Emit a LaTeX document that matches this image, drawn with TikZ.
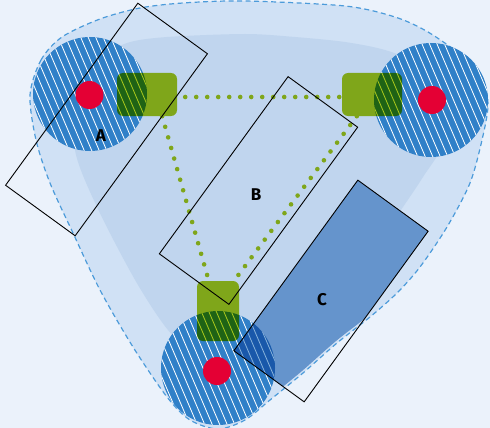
\documentclass[tikz,border=0pt]{standalone}
\usepackage{fontspec}
\setmainfont{Fira Sans}
\definecolor{bgblue}{RGB}{235,242,251}
\definecolor{outerblue}{RGB}{208,225,245}
\definecolor{innerblue}{RGB}{192,213,238}
\definecolor{edgeblue}{RGB}{76,155,218}
\definecolor{discblue}{RGB}{48,128,200}
\definecolor{dotred}{RGB}{228,0,52}
\definecolor{padgreen}{RGB}{169,199,28}
\definecolor{linkgreen}{RGB}{127,166,26}
\definecolor{zonefill}{RGB}{101,148,204}
\definecolor{zoneblue}{RGB}{134,177,218}
\usepackage{tikz}
\usetikzlibrary{positioning}
\tikzset{
disc/.style={circle, fill=discblue, minimum size=114pt, inner sep=0pt,
  path picture={\foreach \k in {-12,...,12}
    \draw[white, line width=0.8pt] ([xshift=\k*7.5pt-30pt, yshift=70pt]path picture bounding box.center) -- ([xshift=\k*7.5pt+30pt, yshift=-70pt]path picture bounding box.center);}}, % hatched blue disc
core/.style={circle, fill=dotred, minimum size=28pt, inner sep=0pt}, % red centre
pad/.style={rounded corners=6pt, fill=padgreen, inner sep=0pt}, % green pad
link/.style={linkgreen, line width=4.6pt, line cap=round, dash pattern=on 0pt off 11pt}, % dotted green link
slot/.style={draw=black, line width=0.9pt, minimum width=#1, minimum height=86pt, inner sep=0pt, rotate=54}, % tilted box
tag/.style={font=\fontsize{17}{17}\selectfont\bfseries}, % box letter
}

\begin{document}
\begin{tikzpicture}[x=1pt, y=-1pt]
      \fill[bgblue] (0,0) rectangle (490,428);
      \useasboundingbox (0,0) rectangle (490,428);

      % outer and inner zone
      \draw[fill=outerblue, draw=edgeblue, line width=1.2pt, dash pattern=on 5pt off 3.5pt]
        plot[smooth cycle] coordinates {(30,95) (41,60) (62,37) (100,19) (140,8) (183,3) (245,1) (345,6) (395,17) (428,32) (462,56) (482,79) (488,105) (482,140) (470,183) (447,227) (420,267) (397,293) (370,317) (337,343) (303,373) (270,400) (245,420) (218,429) (190,420) (167,397) (133,347) (100,290) (73,233) (50,183) (36,140)};
      \fill[innerblue]
        plot[smooth cycle] coordinates {(75,150) (80,100) (100,60) (127,43) (167,37) (245,34) (295,37) (345,42) (385,50) (410,62) (440,100) (445,140) (423,177) (403,207) (370,255) (330,300) (270,345) (218,365) (175,338) (138,285) (97,207)};

      % box C, only its fill for now
      \path (331,291) node[slot=210pt, draw=none] (bC) {};
      \begin{scope}
        \clip plot[smooth cycle] coordinates {(32,95) (43,60) (63,39) (100,21) (140,10) (183,5) (245,3) (345,8) (395,19) (428,34) (461,58) (480,80) (486,105) (480,140) (468,183) (445,227) (418,266) (395,292) (368,316) (336,341) (302,371) (269,398) (245,418) (218,427) (190,418) (169,396) (135,346) (102,289) (75,232) (52,182) (38,140)};
        \fill[zonefill] (bC.north west) -- (bC.north east) -- (bC.south east) -- (bC.south west) -- cycle;
      \end{scope}

      \node[disc] (dA) at (90,94) {};
      \node[disc] (dB) at (431,100) {};
      \node[disc] (dC) at (218,368) {};

      % box C darkens the disc under it
      \begin{scope}[blend mode=multiply]
        \clip (dC.center) circle (57pt);
        \fill[zoneblue] (bC.north west) -- (bC.north east) -- (bC.south east) -- (bC.south west) -- cycle;
      \end{scope}

      \node[core] (rA) at (89.5,95) {};
      \node[core] (rB) at (432,100) {};
      \node[core] (rC) at (217,371) {};

      \begin{scope}[blend mode=multiply]
        \node[pad, minimum width=60pt, minimum height=43pt] (gA) at (147,94.5) {};
        \node[pad, minimum width=60pt, minimum height=43pt] (gB) at (372,94.5) {};
        \node[pad, minimum width=42pt, minimum height=60pt] (gC) at (218,311) {};
      \end{scope}

      \draw[link, shorten <=8pt] ([yshift=-2.5pt]gA.east) -- ([yshift=-2.5pt]gB.west);
      \draw[link] (gA.-55) -- (gC.107);
      \draw[link] (gB.-125) -- (gC.62);

      \node[slot=225pt] (bA) at (106.5,119.5) {};
      \node[slot=219pt] (bB) at (258.5,190.5) {};
      \draw[line width=0.9pt] (bC.north west) -- (bC.north east) -- (bC.south east) -- (bC.south west) -- cycle;

      \node[tag] (lA) at (101,136) {A};
      \node[tag] (lB) at (256,195) {B};
      \node[tag] (lC) at (322,300) {C};
\end{tikzpicture}
\end{document}
